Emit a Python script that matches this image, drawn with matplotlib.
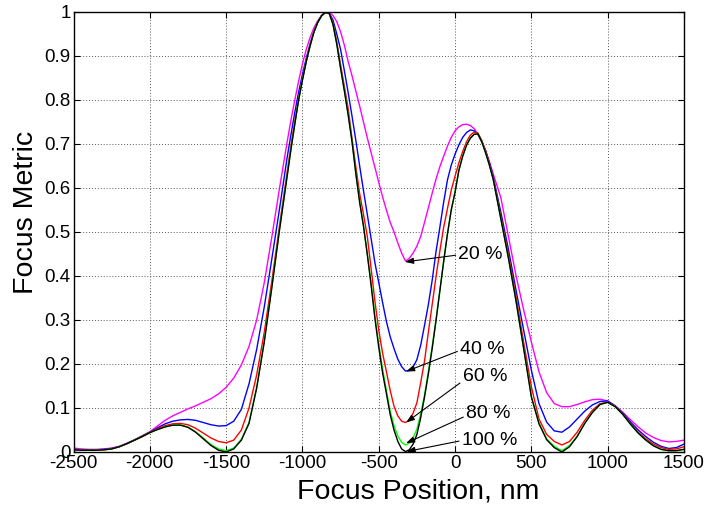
import matplotlib
matplotlib.use("Agg")
import matplotlib.pyplot as plt

plt.rcParams['font.family'] = ['Liberation Sans', 'DejaVu Sans']
plt.rcParams['axes.unicode_minus'] = False

focus_nm = [-2500, -2450, -2400, -2350, -2300, -2250, -2200, -2150, -2100, -2050,
            -2000, -1950, -1900, -1850, -1800, -1750, -1700, -1650, -1600, -1550,
            -1500, -1450, -1400, -1350, -1300, -1250, -1200, -1150,
            -1100, -1075, -1050, -1025, -1000, -975, -950, -925, -900, -875,
            -850, -825, -800, -775, -750, -725, -700, -675, -650, -625,
            -600, -575, -550, -525, -500, -475, -450, -425, -400, -375,
            -350, -325, -300, -275, -250, -225, -200, -175, -150, -125,
            -100, -75, -50, -25, 0, 25, 50, 75, 100, 125,
            150, 175, 200, 225, 250,
            300, 350, 400, 450, 500, 550, 600, 650, 700, 750,
            800, 850, 900, 950, 1000, 1050, 1100, 1150, 1200, 1250,
            1300, 1350, 1400, 1450, 1500]

metric_20 = [0.009, 0.007, 0.006, 0.006, 0.007, 0.009, 0.013, 0.020, 0.028, 0.037,
             0.046, 0.059, 0.072, 0.082, 0.090, 0.098, 0.105, 0.113, 0.121, 0.132,
             0.147, 0.168, 0.198, 0.240, 0.300, 0.385, 0.490, 0.600,
             0.705, 0.755, 0.800, 0.843, 0.882, 0.915, 0.942, 0.964, 0.980, 0.992,
             0.999, 0.999, 0.992, 0.978, 0.955, 0.924, 0.887, 0.855, 0.820, 0.786,
             0.750, 0.714, 0.680, 0.647, 0.613, 0.580, 0.550, 0.522, 0.500, 0.475,
             0.452, 0.434, 0.440, 0.452, 0.468, 0.490, 0.522, 0.555, 0.588, 0.620,
             0.648, 0.672, 0.695, 0.715, 0.730, 0.739, 0.744, 0.745, 0.742, 0.735,
             0.722, 0.705, 0.685, 0.660, 0.632,
             0.578, 0.489, 0.400, 0.322, 0.250, 0.182, 0.135, 0.110, 0.103, 0.103,
             0.108, 0.114, 0.119, 0.120, 0.116, 0.105, 0.090, 0.073, 0.057, 0.043,
             0.033, 0.026, 0.023, 0.024, 0.027]

metric_40 = [0.006, 0.005, 0.005, 0.005, 0.006, 0.008, 0.012, 0.019, 0.027, 0.036,
             0.045, 0.055, 0.064, 0.070, 0.073, 0.074, 0.072, 0.067, 0.062, 0.059,
             0.060, 0.070, 0.097, 0.155, 0.233, 0.330, 0.440, 0.553,
             0.670, 0.722, 0.772, 0.818, 0.858, 0.895, 0.928, 0.955, 0.977, 0.992,
             0.999, 0.998, 0.982, 0.950, 0.915, 0.866, 0.816, 0.763, 0.708, 0.650,
             0.594, 0.540, 0.485, 0.430, 0.385, 0.340, 0.297, 0.262, 0.235, 0.211,
             0.194, 0.184, 0.185, 0.193, 0.210, 0.243, 0.288, 0.335, 0.390, 0.455,
             0.510, 0.567, 0.618, 0.652, 0.677, 0.698, 0.715, 0.726, 0.732, 0.730,
             0.722, 0.706, 0.685, 0.657, 0.625,
             0.545, 0.460, 0.367, 0.276, 0.186, 0.110, 0.068, 0.048, 0.045, 0.057,
             0.075, 0.093, 0.107, 0.115, 0.116, 0.104, 0.088, 0.068, 0.050, 0.035,
             0.022, 0.013, 0.008, 0.010, 0.018]

metric_60 = [0.005, 0.004, 0.004, 0.004, 0.005, 0.007, 0.012, 0.019, 0.027, 0.035,
             0.044, 0.053, 0.060, 0.064, 0.065, 0.062, 0.054, 0.043, 0.032, 0.024,
             0.021, 0.027, 0.050, 0.100, 0.175, 0.272, 0.390, 0.515,
             0.637, 0.697, 0.752, 0.803, 0.848, 0.889, 0.924, 0.955, 0.977, 0.992,
             0.999, 0.997, 0.975, 0.932, 0.880, 0.830, 0.780, 0.712, 0.648, 0.587,
             0.540, 0.490, 0.417, 0.342, 0.277, 0.225, 0.183, 0.140, 0.104, 0.082,
             0.070, 0.067, 0.072, 0.088, 0.112, 0.158, 0.207, 0.272, 0.335, 0.398,
             0.456, 0.510, 0.553, 0.595, 0.627, 0.657, 0.683, 0.705, 0.720, 0.727,
             0.725, 0.708, 0.684, 0.654, 0.621,
             0.535, 0.448, 0.352, 0.248, 0.148, 0.075, 0.040, 0.024, 0.016, 0.024,
             0.045, 0.072, 0.095, 0.110, 0.113, 0.103, 0.086, 0.064, 0.045, 0.030,
             0.018, 0.010, 0.006, 0.007, 0.012]

metric_80 = [0.005, 0.004, 0.004, 0.004, 0.005, 0.007, 0.012, 0.019, 0.027, 0.035,
             0.044, 0.051, 0.057, 0.061, 0.062, 0.057, 0.046, 0.032, 0.017, 0.007,
             0.003, 0.009, 0.029, 0.067, 0.147, 0.252, 0.377, 0.507,
             0.629, 0.690, 0.746, 0.801, 0.846, 0.888, 0.923, 0.954, 0.976, 0.991,
             0.999, 0.997, 0.972, 0.928, 0.873, 0.822, 0.767, 0.707, 0.634, 0.569,
             0.515, 0.450, 0.383, 0.308, 0.245, 0.190, 0.140, 0.093, 0.060, 0.036,
             0.022, 0.016, 0.020, 0.032, 0.052, 0.087, 0.130, 0.183, 0.240, 0.301,
             0.367, 0.433, 0.496, 0.550, 0.592, 0.641, 0.673, 0.698, 0.714, 0.722,
             0.723, 0.705, 0.680, 0.652, 0.620,
             0.530, 0.440, 0.342, 0.234, 0.126, 0.066, 0.030, 0.013, 0.003, 0.015,
             0.036, 0.066, 0.090, 0.108, 0.113, 0.103, 0.085, 0.063, 0.043, 0.027,
             0.014, 0.006, 0.003, 0.003, 0.006]

metric_100 = [0.005, 0.004, 0.004, 0.004, 0.005, 0.007, 0.012, 0.019, 0.027, 0.035,
              0.044, 0.051, 0.057, 0.061, 0.061, 0.056, 0.045, 0.030, 0.015, 0.004,
              0.000, 0.007, 0.027, 0.065, 0.145, 0.250, 0.375, 0.505,
              0.627, 0.688, 0.745, 0.800, 0.845, 0.887, 0.923, 0.954, 0.976, 0.991,
              0.999, 0.997, 0.972, 0.927, 0.872, 0.820, 0.765, 0.705, 0.632, 0.567,
              0.513, 0.449, 0.379, 0.303, 0.238, 0.180, 0.133, 0.085, 0.050, 0.024,
              0.007, 0.001, 0.005, 0.018, 0.040, 0.078, 0.125, 0.177, 0.235, 0.298,
              0.365, 0.432, 0.495, 0.550, 0.590, 0.640, 0.672, 0.697, 0.713, 0.722,
              0.723, 0.705, 0.680, 0.652, 0.620,
              0.530, 0.440, 0.342, 0.234, 0.125, 0.064, 0.028, 0.010, 0.000, 0.012,
              0.035, 0.065, 0.090, 0.108, 0.113, 0.103, 0.085, 0.063, 0.043, 0.027,
              0.014, 0.006, 0.003, 0.003, 0.006]

series = [("20 %", metric_20, "#FF00FF"),
          ("40 %", metric_40, "#0000FF"),
          ("60 %", metric_60, "#FF0000"),
          ("80 %", metric_80, "#00FF00"),
          ("100 %", metric_100, "#000000")]

labels = ["20 %", "40 %", "60 %", "80 %", "100 %"]
text_x = [22, 33, 50, 72, 44]
text_y = [0.448, 0.233, 0.171, 0.088, 0.026]
tip_x = [-328, -321, -321, -321, -318]
tip_y = [0.432, 0.183, 0.067, 0.020, 0.001]

x_ticks = [-2500, -2000, -1500, -1000, -500, 0, 500, 1000, 1500]
y_ticks = [0, 0.1, 0.2, 0.3, 0.4, 0.5, 0.6, 0.7, 0.8, 0.9, 1]
y_tick_labels = ["0", "0.1", "0.2", "0.3", "0.4", "0.5", "0.6", "0.7", "0.8", "0.9", "1"]

fig = plt.figure(figsize=(7.06, 5.08), dpi=100)
ax = fig.add_axes([73.5 / 706, 1 - 452 / 508, 610.5 / 706, 440 / 508])

for name, vals, col in series:
    ax.plot(focus_nm, vals, color=col, lw=1.0)

ax.set_xlim(-2500, 1500)
ax.set_ylim(0, 1)
ax.set_xticks(x_ticks)
ax.set_xticklabels([str(t) for t in x_ticks])
ax.set_yticks(y_ticks)
ax.set_yticklabels(y_tick_labels)
ax.grid(True, color="0.35", linestyle=(0, (1, 2)), linewidth=0.7)
ax.tick_params(direction="in", length=4, width=0.8, top=True, right=True,
               labelsize=13.5)
ax.tick_params(axis="x", pad=2.5)
ax.tick_params(axis="y", pad=2)
for s in ax.spines.values():
    s.set_linewidth(1.0)
    s.set_color("black")

ax.set_xlabel("Focus Position, nm", fontsize=20.5)
ax.set_ylabel("Focus Metric", fontsize=20.5)
ax.xaxis.set_label_coords((418 - 73.5) / 610.5, -(478 - 452) / 440)
ax.yaxis.set_label_coords((39 - 73.5) / 610.5, (452 - 212) / 440)

relpos = [(0, 0.5), (0, 0.45), (0, 0.25), (0, 0.35), (0, 0.5)]
for i in range(len(labels)):
    ax.annotate(labels[i], xy=(tip_x[i], tip_y[i]), xytext=(text_x[i], text_y[i]),
                fontsize=14, ha="left", va="center",
                arrowprops=dict(arrowstyle="-|>,head_length=0.5,head_width=0.18",
                                color="black", lw=0.8, shrinkA=0, shrinkB=0,
                                relpos=relpos[i], mutation_scale=10))

fig.savefig("out.png", dpi=100)
